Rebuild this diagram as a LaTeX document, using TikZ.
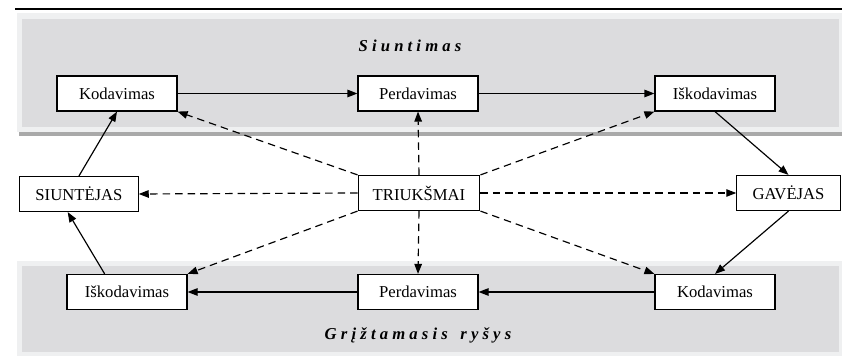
\documentclass[tikz,border=0pt]{standalone}
\usepackage{fontspec}
\setmainfont{Liberation Serif}
\usetikzlibrary{arrows.meta}
\definecolor{panelin}{HTML}{DCDCDE}
\definecolor{panelout}{HTML}{EFF0F1}
\definecolor{panelshadow}{HTML}{A9A9A9}
\tikzset{
	blok/.style={draw=black, fill=white, line width=0.7pt, minimum width=72pt, minimum height=21pt, inner sep=2pt, font=\fontsize{10}{12}\selectfont},
	kelias/.style={line width=0.7pt, -{Triangle[length=6pt, width=4.5pt]}},
	triukas/.style={kelias, dash pattern=on 4.5pt off 3pt},
	antraste/.style={font=\fontsize{10}{12}\selectfont\bfseries\itshape}
}

\begin{document}
\begin{tikzpicture}[x=0.6pt, y=-0.6pt]
			\useasboundingbox (0, 0) rectangle (842, 356);
			\draw[line width=0.9pt] (15, 9) -- (842, 9);
			\fill[panelout] (17, 13) rectangle (842, 132);
			\fill[panelin] (22, 19) rectangle (839, 127);
			\fill[panelshadow] (19, 132) rectangle (842, 136);
			\fill[panelout] (17, 261) rectangle (842, 356);
			\fill[panelin] (22, 266) rectangle (839, 352);
			\node[antraste] (siuntimas) at (410, 46) {S i u n t i m a s};
			\node[antraste] (grizt) at (418, 335) {G r į ž t a m a s i s \ \ r y š y s};
			\node[blok] (kod1) at (117, 93.5) {Kodavimas};
			\node[blok] (per1) at (418, 93.5) {Perdavimas};
			\node[blok] (isk1) at (715, 93.5) {Iškodavimas};
			\node[blok, minimum width=71pt] (siu) at (79, 194) {SIUNTĖJAS};
			\node[blok, minimum width=73pt] (triuk) at (419, 193) {TRIUKŠMAI};
			\node[blok, minimum width=62pt] (gav) at (788.5, 193) {GAVĖJAS};
			\node[blok] (isk2) at (127, 292) {Iškodavimas};
			\node[blok] (per2) at (418, 292) {Perdavimas};
			\node[blok] (kod2) at (715, 292) {Kodavimas};
			\draw[kelias] (kod1) -- (per1);
			\draw[kelias] (per1) -- (isk1);
			\draw[kelias] (isk1.south) -- (gav.north);
			\draw[kelias] (gav.south) -- (kod2.north);
			\draw[kelias] (kod2) -- (per2);
			\draw[kelias] (per2) -- (isk2);
			\draw[kelias] (isk2.141) -- (siu.238);
			\draw[kelias] (siu.north) -- (kod1.south);
			\draw[triukas] (triuk.north west) -- (kod1.south east);
			\draw[triukas] (triuk.north) -- (per1.south);
			\draw[triukas] (triuk.north east) -- (isk1.south west);
			\draw[triukas] (triuk.west) -- (siu.east);
			\draw[triukas] (triuk.east) -- (gav.west);
			\draw[triukas] (triuk.south west) -- (isk2.north east);
			\draw[triukas] (triuk.south) -- (per2.north);
			\draw[triukas] (triuk.south east) -- (kod2.north west);
		\end{tikzpicture}
\end{document}
